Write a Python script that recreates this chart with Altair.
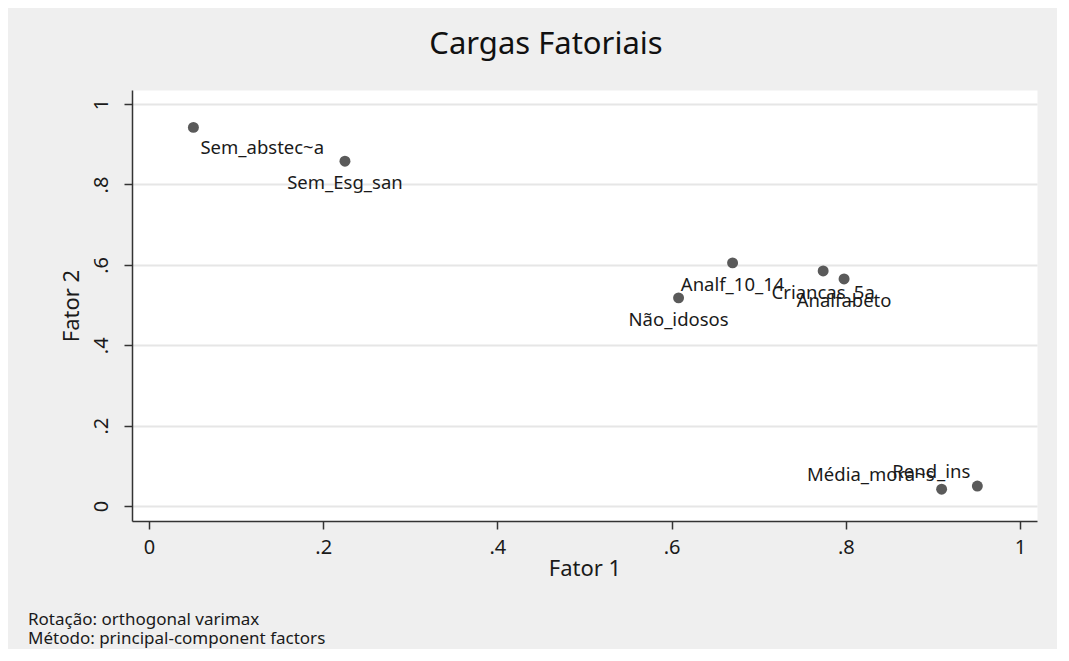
import altair as alt
import pandas as pd

# Data (factor loadings)
variables = ["Sem_abstec~a", "Sem_Esg_san", "Analf_10_14", "Criancas_5a",
             "Analfabeto", "Não_idosos", "Média_mora~s", "Rend_ins"]
fator1 = [0.051, 0.225, 0.670, 0.774, 0.798, 0.608, 0.910, 0.951]
fator2 = [0.942, 0.858, 0.605, 0.585, 0.565, 0.518, 0.042, 0.050]
# Stata-like marker label placement
label_pos = ["below_right", "below", "below", "below",
             "below", "below", "above_left", "above_left"]

tick_values = [0, 0.2, 0.4, 0.6, 0.8, 1]
title_text = "Cargas Fatoriais"
note_lines = ["Rotação: orthogonal varimax", "Método: principal-component factors"]

df = pd.DataFrame({"var": variables, "f1": fator1, "f2": fator2, "pos": label_pos})

FONT = "Noto Sans"
label_expr = ("datum.value == 0 ? '0' : (datum.value == 1 ? '1' : "
              "replace(format(datum.value, '.1f'), '0.', '.'))")

xscale = alt.Scale(domain=[-0.0195, 1.0195], nice=False, zero=False)
yscale = alt.Scale(domain=[-0.037, 1.035], nice=False, zero=False)

xaxis = alt.Axis(values=tick_values, labelExpr=label_expr, title="Fator 1",
                 grid=False, tickSize=8, tickColor="#333333", domainColor="#333333",
                 domainWidth=1.5, tickWidth=1.5, labelFontSize=20, labelFont=FONT,
                 labelColor="#1a1a1a", labelPadding=8, titleFontSize=22, titleFont=FONT,
                 titleFontWeight="normal", titleColor="#1a1a1a", titlePadding=1)
yaxis = alt.Axis(values=tick_values, labelExpr=label_expr, title="Fator 2",
                 grid=True, gridColor="#e6e6e6", gridWidth=2,
                 tickSize=8, tickColor="#333333", domainColor="#333333",
                 domainWidth=1.5, tickWidth=1.5, labelFontSize=20, labelFont=FONT,
                 labelColor="#1a1a1a", labelAngle=270, labelAlign="center",
                 labelBaseline="bottom", labelPadding=13,
                 titleFontSize=22, titleFont=FONT, titleFontWeight="normal",
                 titleColor="#1a1a1a", titlePadding=8)

base = alt.Chart(df)

points = base.mark_circle(size=120, color="#5a5a5a", opacity=1).encode(
    x=alt.X("f1:Q", scale=xscale, axis=xaxis),
    y=alt.Y("f2:Q", scale=yscale, axis=yaxis),
)

def labels(pos, align, dx, dy):
    return base.transform_filter(alt.datum.pos == pos).mark_text(
        align=align, baseline="middle", dx=dx, dy=dy, font=FONT, fontSize=18.5,
        color="#1a1a1a").encode(
        x=alt.X("f1:Q", scale=xscale), y=alt.Y("f2:Q", scale=yscale), text="var:N")

lab_below = labels("below", "center", 0, 22)
lab_br = labels("below_right", "left", 7, 21)
lab_al = labels("above_left", "right", -7, -14)

title = alt.Chart(pd.DataFrame({"t": [title_text]})).mark_text(
    align="center", baseline="middle", font=FONT, fontSize=31, color="#111111").encode(
    x=alt.value(414), y=alt.value(-45), text="t:N")

def note(i, yv):
    return alt.Chart(pd.DataFrame({"t": [note_lines[i]]})).mark_text(
        align="left", baseline="middle", font=FONT, fontSize=17, color="#1a1a1a").encode(
        x=alt.value(-104), y=alt.value(yv), text="t:N")

chart = alt.layer(points, lab_below, lab_br, lab_al, title,
                  note(0, 530), note(1, 549)).properties(
    width=905, height=431,
    autosize=alt.AutoSizeParams(type="none"),
    padding={"left": 124, "top": 82, "right": 20, "bottom": 128},
    background="#efefef",
).configure_view(fill="white", stroke="transparent")

chart.save("out.html", embed_options={"renderer": "svg", "actions": False})
